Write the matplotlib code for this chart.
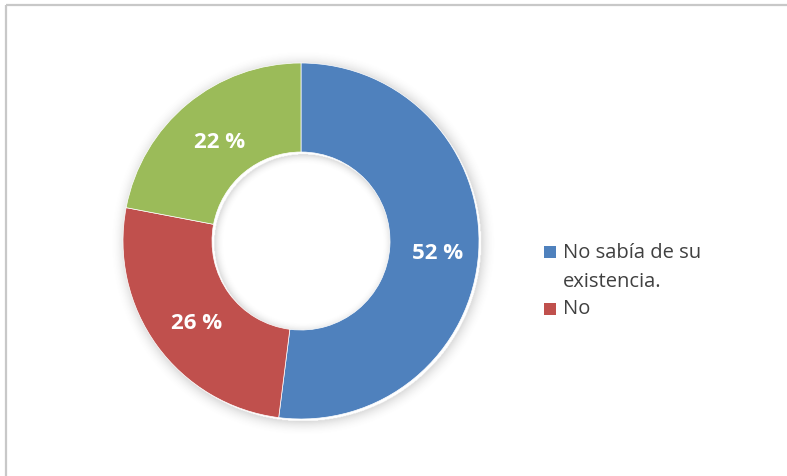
import numpy as np
import matplotlib
matplotlib.use("Agg")
import matplotlib.pyplot as plt
from matplotlib.patches import Rectangle
from matplotlib.transforms import offset_copy

# Survey answers, clockwise from 12 o'clock
values = [52, 26, 22]
colors = ["#4F81BD", "#C0504D", "#9BBB59"]
legend_labels = ["No sabía de su\nexistencia.", "No"]

W, H, DPI = 787, 476, 100
fig = plt.figure(figsize=(W / DPI, H / DPI), dpi=DPI)
fig.patch.set_facecolor("white")

# light frame around the chart area (top and left edges)
fig.add_artist(plt.Line2D([5.5 / W, 5.5 / W], [0, 1 - 4.5 / H], transform=fig.transFigure,
                          color="#C8C8C8", lw=1.6, solid_capstyle="butt"))
fig.add_artist(plt.Line2D([5.5 / W, 1], [1 - 4.5 / H, 1 - 4.5 / H], transform=fig.transFigure,
                          color="#C8C8C8", lw=1.6, solid_capstyle="butt"))

# donut axes: centre (301, 241) px, outer radius 178 px
cx, cy, R = 301, 241, 178
pad = 1.12
ax = fig.add_axes([(cx - R * pad) / W, (H - cy - R * pad) / H, 2 * R * pad / W, 2 * R * pad / H])
ax.axis("off")

# soft shadow around the ring
n = 600
g = np.linspace(-pad, pad, n)
X, Y = np.meshgrid(g, g)
Xs, Ys = X - 0.01, Y + 0.015
r = np.hypot(Xs, Ys)
outer = np.clip(1 - (r - 1.0) / 0.09, 0, 1) * (r > 1.0)
inner = np.clip(1 - (0.5 - r) / 0.06, 0, 1) * (r < 0.5)
shade = np.maximum(outer, inner) ** 2.2 * 0.22
rgba = np.zeros((n, n, 4))
rgba[..., :3] = 0.35
rgba[..., 3] = shade
ax.imshow(rgba, extent=(-pad, pad, -pad, pad), origin="lower", zorder=0, interpolation="bilinear")

wedges, _, autotexts = ax.pie(
    values, colors=colors, startangle=90, counterclock=False, radius=1.0,
    autopct=lambda p: f"{p:.0f} %", pctdistance=0.75,
    wedgeprops=dict(width=0.5, edgecolor="white", linewidth=0.5),
    textprops=dict(color="white", fontsize=16, fontweight="bold", family="Open Sans"),
)
for w in wedges:
    w.set_zorder(2)
# nudge the percentage labels slightly right and down
label_tf = offset_copy(ax.transData, fig=fig, x=3.5, y=-4.5, units="dots")
for t in autotexts:
    t.set_zorder(3)
    t.set_transform(label_tf)
ax.set_xlim(-pad, pad)
ax.set_ylim(-pad, pad)
ax.set_aspect("equal")

# legend (first two categories); y of the last text line's baseline
sq = 12
entries = [(252, 287), (309, 314)]
for (sq_cy, base), lab, col in zip(entries, legend_labels, colors):
    fig.add_artist(Rectangle((544 / W, (H - sq_cy - sq / 2) / H), sq / W, sq / H,
                             transform=fig.transFigure, facecolor=col, edgecolor="none"))
    fig.text(563 / W, (H - base) / H, lab, fontsize=14.5, family="Open Sans",
             color="#404040", va="baseline", ha="left", linespacing=1.6)

fig.savefig("out.png", dpi=DPI)
